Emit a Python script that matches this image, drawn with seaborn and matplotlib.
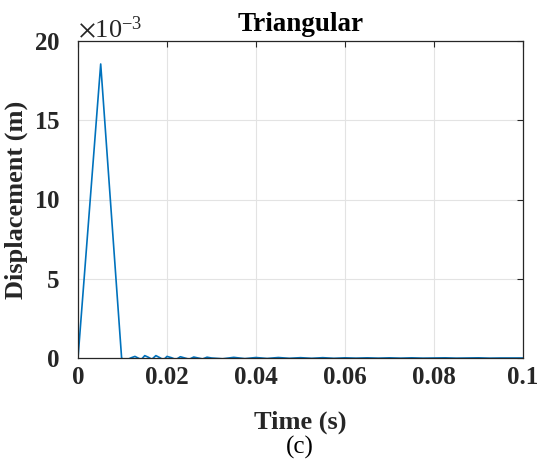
import numpy as np
import pandas as pd
import matplotlib
matplotlib.use("Agg")
import matplotlib.pyplot as plt
import seaborn as sns
from matplotlib.ticker import ScalarFormatter

# ---- data (displacement in units of 1e-3 m) ----
time_s = [0.0, 0.0051, 0.0098, 0.0105, 0.0112, 0.0120, 0.0128, 0.0135, 0.0142,
          0.0150, 0.0158, 0.0166, 0.0175, 0.0184, 0.0192, 0.0200, 0.0210, 0.0220,
          0.0230, 0.0240, 0.0250, 0.0260, 0.0270, 0.0280, 0.0290, 0.0300,
          0.0325, 0.0350, 0.0375, 0.0400, 0.0425, 0.0450, 0.0475, 0.0500,
          0.0525, 0.0550, 0.0575, 0.0600, 0.0625, 0.0650, 0.0675, 0.0700,
          0.0725, 0.0750, 0.0775, 0.0800, 0.0825, 0.0850, 0.0875, 0.0900,
          0.0925, 0.0950, 0.0975, 0.1000]
disp_milli = [0.0, 18.55, 0.0, -0.15, -0.08, 0.02, 0.10, 0.0, -0.10,
              0.15, 0.05, -0.08, 0.15, 0.02, -0.12, 0.10, 0.02, -0.10,
              0.08, 0.0, -0.08, 0.06, 0.0, -0.06, 0.05, 0.0,
              -0.05, 0.04, -0.04, 0.03, -0.03, 0.03, -0.02, 0.02,
              -0.02, 0.02, -0.02, 0.01, -0.01, 0.01, -0.01, 0.01,
              -0.01, 0.01, -0.01, 0.0, 0.01, -0.01, 0.0, 0.01,
              -0.01, 0.0, 0.0, 0.0]
x_ticks = [0, 0.02, 0.04, 0.06, 0.08, 0.1]
x_tick_labels = ["0", "0.02", "0.04", "0.06", "0.08", "0.1"]
y_ticks_milli = [0, 5, 10, 15, 20]

df = pd.DataFrame({"t": time_s, "d": np.array(disp_milli) * 1e-3})

sns.set_style("white")
plt.rcParams["font.family"] = ["Liberation Serif", "DejaVu Serif"]
plt.rcParams["mathtext.fontset"] = "stix"

fig = plt.figure(figsize=(5.39, 4.66), dpi=100)
ax = fig.add_axes([78/539, 1 - 358/466, (523-78)/539, (358-41)/466])

sns.lineplot(data=df, x="t", y="d", ax=ax, color="#0072BD", linewidth=1.2,
             estimator=None, sort=False)

ax.set_xlim(0, 0.1)
ax.set_ylim(0, 0.020)
ax.set_xticks(x_ticks)
ax.set_xticklabels(x_tick_labels)
ax.set_yticks(np.array(y_ticks_milli) * 1e-3)

fmt = ScalarFormatter(useMathText=True)
fmt.set_powerlimits((-3, -3))
ax.yaxis.set_major_formatter(fmt)

for lab in ax.get_xticklabels() + ax.get_yticklabels():
    lab.set_fontweight("bold")
    lab.set_fontsize(18)
    lab.set_color("#262626")
ax.tick_params(direction="in", length=4, width=0.8, colors="#262626",
               top=True, right=True)
ax.tick_params(axis="x", pad=6)
ax.tick_params(axis="y", pad=13)
ot = ax.yaxis.get_offset_text()
ot.set_fontsize(19)
ot.set_fontweight("normal")
ot.set_color("#262626")

ax.grid(True, color="#e3e3e3", linewidth=0.8)
ax.set_axisbelow(True)
for s in ax.spines.values():
    s.set_visible(True)
    s.set_color("#262626")
    s.set_linewidth(0.9)

ax.set_xlabel("Time (s)", fontsize=19, fontweight="bold", color="#262626", labelpad=15)
ax.set_ylabel("Displacement (m)", fontsize=19, fontweight="bold", color="#262626", labelpad=4)
ax.set_title("Triangular", fontsize=19.5, fontweight="bold", color="black", pad=7)
fig.text(300/539, 1 - 447/466, "(c)", fontsize=18, ha="center", va="center", color="black")

fig.savefig("out.png", dpi=100)
